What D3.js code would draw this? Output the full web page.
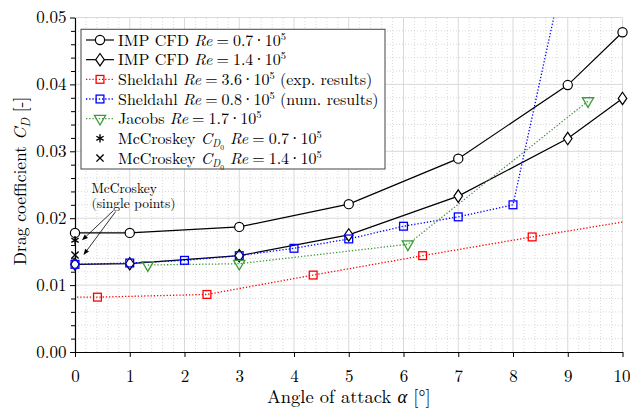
<!DOCTYPE html>
<html>
<head>
<meta charset="utf-8">
<script src="https://cdn.jsdelivr.net/npm/d3@7"></script>
<style>
  body { margin: 0; background: #fff; }
  svg { display: block; font-family: "Latin Modern Roman", "CMU Serif", "Liberation Serif", "Times New Roman", serif; }
  .dot { font-family: "Liberation Serif", serif; }
</style>
</head>
<body>
<svg id="chart" width="630" height="408"></svg>
<script>
// ---- data -------------------------------------------------------------
const alphaImp   = [0, 1, 3, 5, 7, 9, 10];
const cdImp07    = [0.0178, 0.0178, 0.0187, 0.0221, 0.0289, 0.0399, 0.0478];
const cdImp14    = [0.0131, 0.0132, 0.0144, 0.0175, 0.0233, 0.0319, 0.0379];

const alphaShelExp = [-1.6, 0.41, 2.41, 4.35, 6.35, 8.35, 10.35];
const cdShelExp    = [0.0082, 0.0082, 0.0086, 0.0115, 0.0144, 0.0172, 0.0199];

const alphaShelNum = [0, 1, 2, 3, 4, 5, 6, 7, 8, 9];
const cdShelNum    = [0.0131, 0.0133, 0.0137, 0.0144, 0.0155, 0.0169, 0.0188, 0.0202, 0.0220, 0.0596];

const alphaJacobs = [1.33, 3, 6.08, 9.37];
const cdJacobs    = [0.0130, 0.0132, 0.0161, 0.0375];

const alphaMcc = [0];
const cdMcc07  = [0.0167];
const cdMcc14  = [0.0145];

const xTicks = [0, 1, 2, 3, 4, 5, 6, 7, 8, 9, 10];
const yTicks = [0.00, 0.01, 0.02, 0.03, 0.04, 0.05];

// legend labels: prefix, Reynolds mantissa, suffix
const legendPrefix = ["IMP CFD", "IMP CFD", "Sheldahl", "Sheldahl", "Jacobs", "McCroskey", "McCroskey"];
const legendRe     = ["0.7", "1.4", "3.6", "0.8", "1.7", "0.7", "1.4"];
const legendSuffix = ["", "", " (exp. results)", " (num. results)", "", "", ""];
const legendCd0    = [false, false, false, false, false, true, true];

// ---- layout -----------------------------------------------------------
const svg = d3.select("#chart");
const x = d3.scaleLinear().domain([0, 10]).range([75, 622.5]);
const y = d3.scaleLinear().domain([0, 0.05]).range([352, 17.5]);
const [x0, x1] = x.range();
const [y0, y1] = y.range();

const RED = "#ff0000", BLUE = "#0000ff", GREEN = "#3c9c3c";

// ---- grid -------------------------------------------------------------
const grid = svg.append("g");
const xMinor = d3.range(0, 50.5, 1).map(d => d / 5).filter(d => Math.abs(d - Math.round(d)) > 1e-9);
const yMinor = d3.range(0, 25.5, 1).map(d => d * 0.002).filter(d => Math.abs(d * 100 - Math.round(d * 100)) > 1e-9);

grid.selectAll(".xm").data(xMinor).join("line")
  .attr("x1", d => x(d)).attr("x2", d => x(d)).attr("y1", y0).attr("y2", y1)
  .attr("stroke", "#cfcfcf").attr("stroke-width", 0.8).attr("stroke-dasharray", "1,2");
grid.selectAll(".ym").data(yMinor).join("line")
  .attr("y1", d => y(d)).attr("y2", d => y(d)).attr("x1", x0).attr("x2", x1)
  .attr("stroke", "#cfcfcf").attr("stroke-width", 0.8).attr("stroke-dasharray", "1,2");
grid.selectAll(".xM").data(xTicks.slice(1)).join("line")
  .attr("x1", d => x(d)).attr("x2", d => x(d)).attr("y1", y0).attr("y2", y1)
  .attr("stroke", "#d9d9d9").attr("stroke-width", 1);
grid.selectAll(".yM").data(yTicks.slice(1)).join("line")
  .attr("y1", d => y(d)).attr("y2", d => y(d)).attr("x1", x0).attr("x2", x1)
  .attr("stroke", "#d9d9d9").attr("stroke-width", 1);

// ---- series -----------------------------------------------------------
svg.append("clipPath").attr("id", "plotclip")
  .append("rect").attr("x", x0).attr("y", y1).attr("width", x1 - x0).attr("height", y0 - y1);

const line = d3.line().x(d => x(d[0])).y(d => y(d[1]));
const zip = (a, b) => a.map((v, i) => [v, b[i]]);

const series = [
  { xs: alphaImp,     ys: cdImp07,   color: "#000", dash: null,      mark: "circle" },
  { xs: alphaImp,     ys: cdImp14,   color: "#000", dash: null,      mark: "diamond" },
  { xs: alphaShelExp, ys: cdShelExp, color: RED,    dash: "1.3,1.9", mark: "square" },
  { xs: alphaShelNum, ys: cdShelNum, color: BLUE,   dash: "1.3,1.9", mark: "square" },
  { xs: alphaJacobs,  ys: cdJacobs,  color: GREEN,  dash: "1.3,1.9", mark: "triangle" },
  { xs: alphaMcc,     ys: cdMcc07,   color: "#000", dash: null,      mark: "asterisk", noLine: true },
  { xs: alphaMcc,     ys: cdMcc14,   color: "#000", dash: null,      mark: "cross",    noLine: true }
];

function drawMark(g, kind, cx, cy, color) {
  const s = g.append("g").attr("transform", `translate(${cx},${cy})`);
  if (kind === "circle") {
    s.append("circle").attr("r", 4.6).attr("fill", "#fff").attr("stroke", color).attr("stroke-width", 1.2);
  } else if (kind === "diamond") {
    s.append("path").attr("d", "M0,-6.2L4.3,0L0,6.2L-4.3,0Z").attr("fill", "#fff").attr("stroke", color).attr("stroke-width", 1.2);
  } else if (kind === "square") {
    s.append("rect").attr("x", -3.9).attr("y", -3.9).attr("width", 7.8).attr("height", 7.8)
      .attr("fill", "none").attr("stroke", color).attr("stroke-width", 1.3);
  } else if (kind === "triangle") {
    s.append("path").attr("d", "M-5.6,-3.4L5.6,-3.4L0,6.3Z").attr("fill", "none").attr("stroke", color).attr("stroke-width", 1.3);
  } else if (kind === "asterisk") {
    const r = 4.2;
    [90, 30, 150].forEach(a => {
      const t = a * Math.PI / 180;
      s.append("line").attr("x1", -r * Math.cos(t)).attr("y1", -r * Math.sin(t))
        .attr("x2", r * Math.cos(t)).attr("y2", r * Math.sin(t))
        .attr("stroke", color).attr("stroke-width", 1.4);
    });
  } else if (kind === "cross") {
    const r = 3.6;
    s.append("path").attr("d", `M${-r},${-r}L${r},${r}M${-r},${r}L${r},${-r}`)
      .attr("stroke", color).attr("stroke-width", 1.4);
  }
}

const linesG = svg.append("g").attr("clip-path", "url(#plotclip)");
series.forEach(s => {
  if (s.noLine) return;
  linesG.append("path").datum(zip(s.xs, s.ys)).attr("d", line)
    .attr("fill", "none").attr("stroke", s.color).attr("stroke-width", s.dash ? 1.3 : 1.2)
    .attr("stroke-dasharray", s.dash);
});

// ---- axes -------------------------------------------------------------
const TICK_FS = 17;
const axG = svg.append("g");

const xAxis = axG.append("g").attr("transform", `translate(0,${y0})`)
  .call(d3.axisBottom(x).tickValues(xTicks).tickFormat(d3.format("d")).tickSize(5).tickSizeOuter(0).tickPadding(12.5));
const yAxis = axG.append("g").attr("transform", `translate(${x0},0)`)
  .call(d3.axisLeft(y).tickValues(yTicks).tickFormat(d3.format(".2f")).tickSize(5).tickSizeOuter(0).tickPadding(3.5));
const yAxisMinor = axG.append("g").attr("transform", `translate(${x0},0)`)
  .call(d3.axisLeft(y).tickValues(yMinor).tickFormat("").tickSize(4).tickSizeOuter(0));
[xAxis, yAxis, yAxisMinor].forEach(a => {
  a.attr("font-family", null).attr("font-size", null);
  a.selectAll("text").attr("font-size", TICK_FS).attr("fill", "#000");
  a.selectAll("line").attr("stroke", "#000").attr("stroke-width", 1);
  a.select(".domain").attr("stroke", "#000").attr("stroke-width", 1.1);
});
// keep the last x label inside the canvas
xAxis.selectAll(".tick text").filter(d => d === 10).attr("text-anchor", "end").attr("dx", 7.5);

// marks drawn over axes (not clipped)
const marksG = svg.append("g");
series.forEach(s => {
  zip(s.xs, s.ys).forEach(([a, c]) => {
    if (a < 0 || a > 10 || c < 0 || c > 0.05) return;
    drawMark(marksG, s.mark, x(a), y(c), s.color);
  });
});

// axis titles
const xt = svg.append("text").attr("x", (x0 + x1) / 2).attr("y", 403).attr("text-anchor", "middle").attr("font-size", 18.5);
xt.append("tspan").text("Angle of attack ");
xt.append("tspan").attr("font-style", "italic").text("α");
xt.append("tspan").text(" [°]");

const yt = svg.append("text").attr("transform", "translate(26,181) rotate(-90)").attr("text-anchor", "middle").attr("font-size", 17.5);
yt.append("tspan").text("Drag coefficient ");
yt.append("tspan").attr("font-style", "italic").text("C");
yt.append("tspan").attr("font-style", "italic").attr("font-size", 12.5).attr("dy", 3.5).text("D");
yt.append("tspan").attr("dy", -3.5).text(" [-]");

// ---- annotation -------------------------------------------------------
const ann = svg.append("g").attr("font-size", 13.5);
ann.append("text").attr("x", x(0.3)).attr("y", 193).text("McCroskey");
ann.append("text").attr("x", x(0.3)).attr("y", 208).text("(single points)");

function arrow(g, sx, sy, tx, ty) {
  const ang = Math.atan2(ty - sy, tx - sx);
  const L = 6, Wd = 2.4;
  const bx = tx - L * Math.cos(ang), by = ty - L * Math.sin(ang);
  g.append("line").attr("x1", sx).attr("y1", sy).attr("x2", bx).attr("y2", by)
    .attr("stroke", "#000").attr("stroke-width", 0.8);
  const px = -Math.sin(ang) * Wd, py = Math.cos(ang) * Wd;
  g.append("path").attr("d", `M${tx},${ty}L${bx + px},${by + py}L${bx - px},${by - py}Z`).attr("fill", "#000");
}
arrow(ann, 113.5, 210.5, x(alphaMcc[0]) + 7, y(cdMcc07[0]));
arrow(ann, 115.7, 211.5, x(alphaMcc[0]) + 8.5, y(cdMcc14[0]));

// ---- legend -----------------------------------------------------------
const lg = svg.append("g");
lg.append("rect").attr("x", 81).attr("y", 29.3).attr("width", 304).attr("height", 139.7)
  .attr("fill", "#fff").attr("stroke", "#555").attr("stroke-width", 1.1);
const rowY = i => 40 + i * 19.67;
series.forEach((s, i) => {
  const cy = rowY(i);
  if (!s.noLine) {
    lg.append("line").attr("x1", 86).attr("x2", 114).attr("y1", cy).attr("y2", cy)
      .attr("stroke", s.color).attr("stroke-width", s.dash ? 1.3 : 1.2).attr("stroke-dasharray", s.dash);
  }
  drawMark(lg, s.mark, 100, cy, s.color);
  const t = lg.append("text").attr("x", 118).attr("y", cy + 5.5).attr("font-size", 16);
  t.append("tspan").text(legendPrefix[i] + " ");
  if (legendCd0[i]) {
    t.append("tspan").attr("font-style", "italic").text("C");
    t.append("tspan").attr("font-style", "italic").attr("font-size", 10.5).attr("dy", 3.5).text("D");
    t.append("tspan").attr("font-size", 7.5).attr("dy", 2.5).text("0");
    t.append("tspan").attr("dy", -6).attr("dx", 6).attr("font-style", "italic").text("Re");
  } else {
    t.append("tspan").attr("font-style", "italic").text("Re");
  }
  t.append("tspan").attr("dx", 4).text("=");
  t.append("tspan").attr("dx", 4).text(legendRe[i]);
  t.append("tspan").attr("class", "dot").attr("dx", 3).text("·");
  t.append("tspan").attr("dx", 3).text("10");
  t.append("tspan").attr("font-size", 10.5).attr("dy", -6).text("5");
  if (legendSuffix[i]) t.append("tspan").attr("dy", 6).text(legendSuffix[i]);
});
</script>
</body>
</html>
